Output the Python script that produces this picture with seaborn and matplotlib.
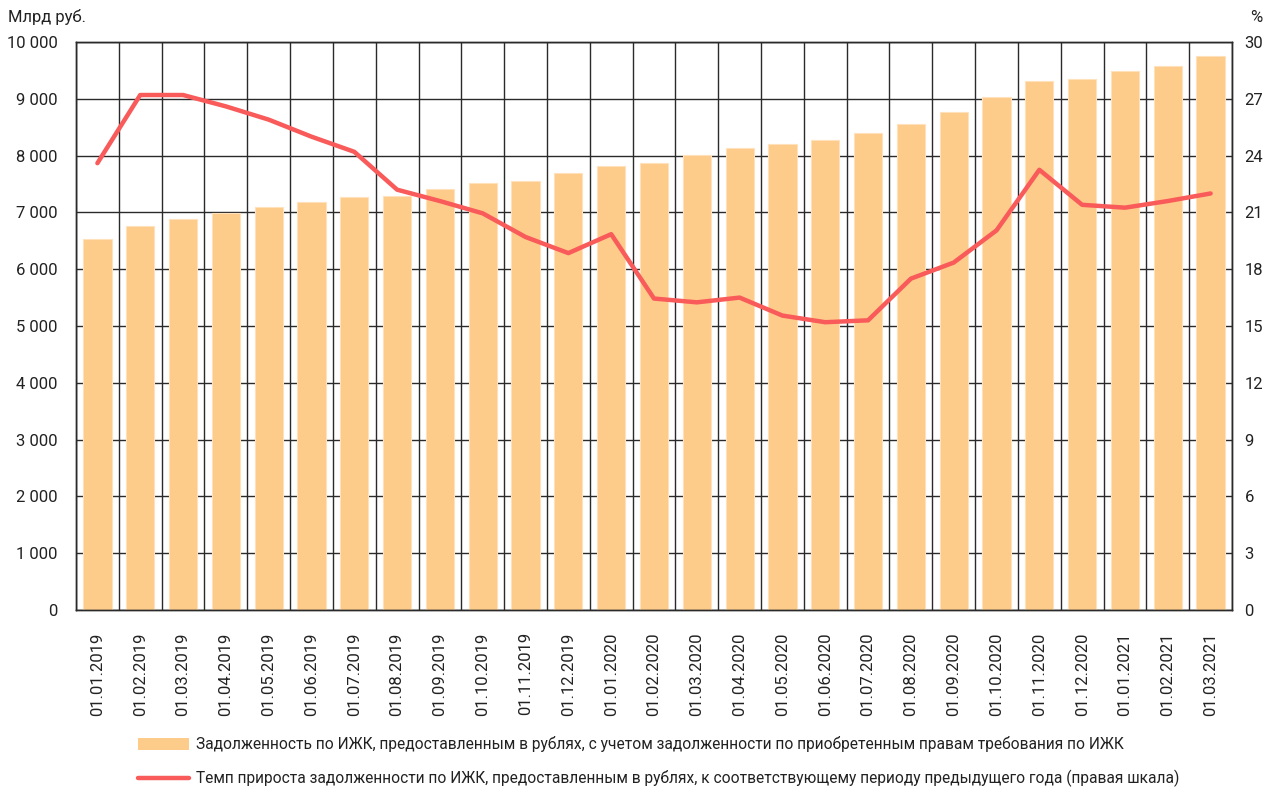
import numpy as np
import pandas as pd
import matplotlib
matplotlib.use('Agg')
import matplotlib.pyplot as plt
import seaborn as sns
from matplotlib.patches import Patch
from matplotlib.lines import Line2D
from matplotlib.ticker import FuncFormatter, MultipleLocator

# --- data ---
dates = ['01.01.2019', '01.02.2019', '01.03.2019', '01.04.2019', '01.05.2019',
         '01.06.2019', '01.07.2019', '01.08.2019', '01.09.2019', '01.10.2019',
         '01.11.2019', '01.12.2019', '01.01.2020', '01.02.2020', '01.03.2020',
         '01.04.2020', '01.05.2020', '01.06.2020', '01.07.2020', '01.08.2020',
         '01.09.2020', '01.10.2020', '01.11.2020', '01.12.2020', '01.01.2021',
         '01.02.2021', '01.03.2021']

# debt, bln rub (left axis)
debt = [6530, 6765, 6885, 6990, 7100, 7180, 7270, 7290, 7410, 7520,
        7550, 7690, 7820, 7875, 8005, 8140, 8200, 8270, 8390, 8560,
        8760, 9030, 9310, 9340, 9490, 9580, 9760]

# growth rate, % (right axis)
growth = [23.6, 27.2, 27.2, 26.6, 25.9, 25.0, 24.2, 22.2, 21.6, 20.95,
          19.7, 18.85, 19.85, 16.45, 16.25, 16.5, 15.55, 15.2, 15.3, 17.5,
          18.35, 20.05, 23.25, 21.4, 21.25, 21.6, 22.0]

bar_label = 'Задолженность по ИЖК, предоставленным в рублях, с учетом задолженности по приобретенным правам требования по ИЖК'
line_label = 'Темп прироста задолженности по ИЖК, предоставленным в рублях, к соответствующему периоду предыдущего года (правая шкала)'

bar_color = '#FDCB8A'
line_color = '#F95A5A'
grid_color = '#2A2A2A'

sns.set_style('white')
plt.rcParams['font.family'] = ['Liberation Sans Narrow', 'Roboto', 'DejaVu Sans']
plt.rcParams['font.size'] = 12
plt.rcParams['text.color'] = '#222222'
plt.rcParams['xtick.color'] = '#222222'
plt.rcParams['ytick.color'] = '#222222'

df = pd.DataFrame({'date': dates, 'debt': debt, 'growth': growth})

fig, ax = plt.subplots(figsize=(12.69, 7.92), dpi=100)
fig.subplots_adjust(left=76/1269, right=1232/1269, top=1-42/792, bottom=1-610/792)

sns.barplot(data=df, x='date', y='debt', color=bar_color, saturation=1,
            width=0.66, edgecolor='#FFE2BC', linewidth=0.8, ax=ax, zorder=2)
ax.set_xlim(-0.5, len(dates) - 0.5)
ax.set_ylim(0, 10000)
ax.yaxis.set_major_locator(MultipleLocator(1000))
ax.yaxis.set_major_formatter(FuncFormatter(lambda v, p: f'{int(v):,}'.replace(',', ' ')))
ax.set_xlabel('')
ax.set_ylabel('')

# grid: horizontal at each 1000, vertical at category boundaries
ax.set_xticks(np.arange(-0.5, len(dates), 1), minor=True)
ax.set_axisbelow(True)
ax.grid(which='major', axis='y', color=grid_color, linewidth=1.0)
ax.grid(which='minor', axis='x', color=grid_color, linewidth=1.0)
ax.grid(which='major', axis='x', visible=False)
ax.tick_params(axis='x', which='major', length=0, pad=16, labelsize=12, rotation=90)
ax.tick_params(axis='x', which='minor', length=5, width=1, color=grid_color, direction='out')
ax.tick_params(axis='y', length=0, pad=13, labelsize=12)
for s in ax.spines.values():
    s.set_color(grid_color)
    s.set_linewidth(1.0)

# growth line on right axis
ax2 = ax.twinx()
sns.lineplot(x=np.arange(len(dates)), y=growth, color=line_color, linewidth=3.2, ax=ax2)
ax2.set_ylim(0, 30)
ax2.yaxis.set_major_locator(MultipleLocator(3))
ax2.set_ylabel('')
ax2.tick_params(axis='y', length=0, pad=9, labelsize=12)
for s in ax2.spines.values():
    s.set_color(grid_color)
    s.set_linewidth(1.0)

fig.text(8/1269, 1-17/792, 'Млрд руб.', ha='left', va='center', fontsize=12)
fig.text(1262/1269, 1-17/792, '%', ha='right', va='center', fontsize=12)

handles = [Patch(facecolor=bar_color, edgecolor='none'),
           Line2D([0], [0], color=line_color, linewidth=3.2)]
fig.legend(handles, [bar_label, line_label], loc='upper left',
           bbox_to_anchor=(138/1269, 1-736/792), frameon=False, fontsize=11.2,
           handlelength=3.3, handleheight=0.8, handletextpad=0.4,
           labelspacing=1.15, borderpad=0, borderaxespad=0)

plt.savefig('out.png', dpi=100)
